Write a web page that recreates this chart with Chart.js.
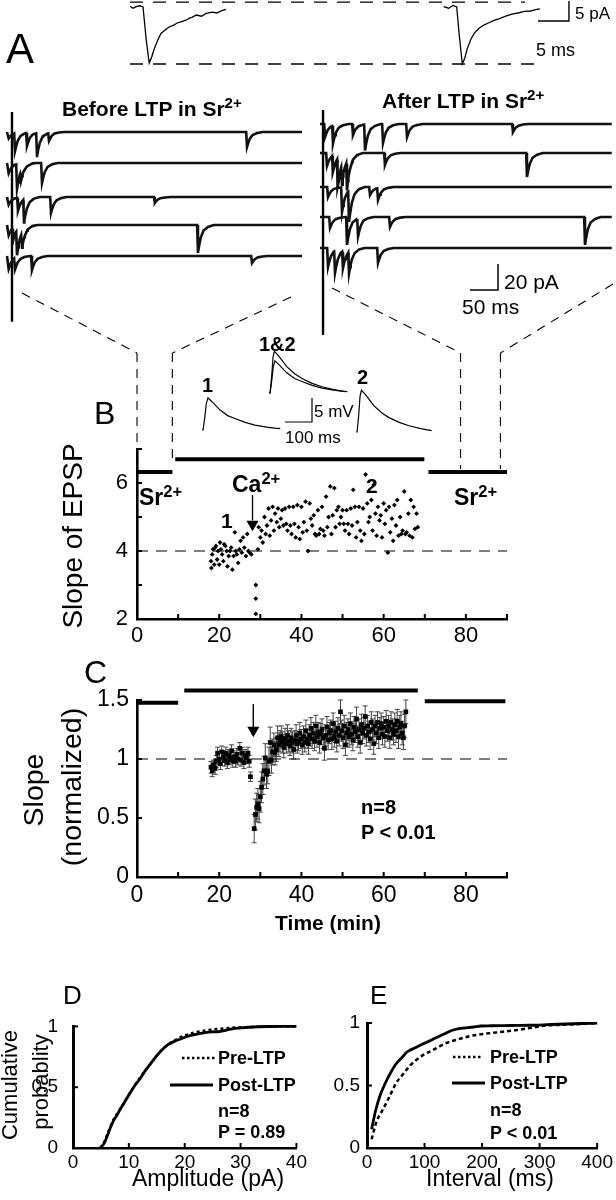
<!DOCTYPE html>
<html><head><meta charset="utf-8">
<script src="https://cdn.jsdelivr.net/npm/chart.js@4.4.1/dist/chart.umd.min.js"></script>
<style>
html,body{margin:0;padding:0;background:#fff;}
#fig{position:relative;width:616px;height:1200px;overflow:hidden;background:#fff;}
#fig canvas{position:absolute;}
.t{position:absolute;white-space:nowrap;line-height:1;color:#000;font-family:'Liberation Sans',Arial,sans-serif;}
.n{font-family:'Liberation Sans Narrow','Arial Narrow','Liberation Sans',sans-serif;}
.b{font-weight:bold;}
.s{font-size:0.72em;position:relative;top:-0.5em;}
</style></head><body><div id="fig"></div>
<script>
// ---------------- DATA ----------------
// Panel A (top): averaged mEPSCs, time (ms) / current (pA)
const avgPreT  = [0,0.5,1.0,1.6,2.1,2.6,3.1,3.5,3.9,4.5,5.0,5.6,6.3,7.0,7.6,8.2,9.0,9.6,10.0,10.7,11.5,12.3,13.3,14.0,14.8,15.5];
const avgPreI  = [0.2,-0.3,0.1,0.3,0,-8,-14,-12.5,-10.5,-8.2,-6.6,-5.8,-5.0,-4.6,-4.0,-3.7,-3.3,-2.8,-2.6,-2.0,-2.3,-1.6,-1.3,-1.5,-0.9,-0.6];
const avgPostT = [0,0.8,1.5,2.1,2.5,3.0,3.4,3.8,4.4,5.0,5.7,6.4,7.2,8.0,9.0,10.0,11.0,12.0,13.0,14.0,15.0,15.5];
const avgPostI = [0.1,-0.3,0.4,0,-7,-14.2,-12.8,-10.4,-8.0,-6.4,-5.3,-4.6,-4.0,-3.4,-2.9,-2.3,-1.8,-1.5,-1.1,-1.0,-0.6,-0.5];
// Panel A (sweeps): asynchronous events [time ms, peak pA]
const sweepsBefore = [
  [[3,-5],[14.3,-13.8],[35.7,-10],[53.6,-17.7],[75,-6],[428.6,-11.5]],
  [[3,-8],[17.9,-19],[25,-7],[62.5,-15.4]],
  [[3,-6],[19.6,-10],[30.4,-17.7],[78.6,-12.3],[264,-4.6]],
  [[3,-8],[10.7,-10],[17.9,-19],[26.8,-11.5],[341,-21.5]],
  [[3,-10],[14.3,-8.5],[44.6,-10.8],[437.5,-5.4]]
];
const sweepsAfter = [
  [[9,-10],[23.2,-13.8],[58.9,-8.5],[80.4,-20],[112.5,-14.6],[155.4,-10],[344.6,-6.2]],
  [[12.5,-10],[23.2,-13],[32.1,-22.3],[39.3,-15.4],[48.2,-22.3],[116,-9.2],[369.6,-18.5]],
  [[14.3,-7.7],[39.3,-19.2],[51.8,-23.8],[89.3,-6.2],[103.6,-9.2]],
  [[17.9,-8.5],[48.2,-21.5],[67.9,-13.8],[125,-7.7],[473.2,-21.5]],
  [[14.3,-14.6],[26.8,-16.9],[41,-13],[51.8,-16.9],[103.6,-11.5]]
];
const sweepLenBefore = 526.8, sweepLenAfter = 521;
// Panel B insets: EPSPs (ms, mV)
const epsp1T = [0,4,10,16,22,35,66,95,122,160,196,240,270,290];
const epsp1V = [0,0,2.5,5.5,6.7,6.0,4.2,3.0,2.4,1.6,1.0,0.6,0.4,0.3];
const epsp2T = [0,4,10,15,20,35,66,95,122,160,196,240,280];
const epsp2V = [0,0,3.5,7.5,8.7,7.8,5.5,4.0,3.0,2.0,1.3,0.7,0.3];
// Panel B: slope of EPSP vs time (min)
const bTime = [18.0,18.1,18.3,18.5,18.8,19.0,19.2,19.5,19.7,20.0,20.2,20.4,20.7,21.0,21.2,21.5,21.8,22.0,22.3,22.6,22.9,23.2,23.5,23.8,24.0,24.3,24.6,24.9,25.2,25.5,25.8,26.1,26.5,26.8,27.1,27.4,27.8,
 28.9,28.9,28.9,29.4,29.6,30.0,30.3,30.6,31.0,31.3,31.6,32.0,32.3,32.6,33.0,33.3,33.6,34.0,34.3,34.6,35.0,35.3,35.6,36.0,36.3,36.6,37.0,37.3,37.6,38.0,38.3,38.6,39.0,39.3,39.6,40.0,40.3,40.6,41.0,41.3,41.6,42.0,42.3,42.6,43.0,43.3,43.6,44.0,44.3,44.6,45.0,45.3,45.6,46.0,46.3,46.6,47.0,47.3,47.6,48.0,48.3,48.6,49.0,49.3,49.6,50.0,50.3,50.6,51.0,51.3,51.6,52.0,52.3,52.6,53.0,53.3,53.6,54.0,54.3,54.6,55.0,55.3,55.6,56.0,56.3,56.6,57.0,57.3,57.6,58.0,58.3,58.6,59.0,59.3,59.6,60.0,60.3,60.6,61.0,61.3,61.6,62.0,62.3,62.6,63.0,63.3,63.6,64.0,64.3,64.6,65.0,65.3,65.6,66.0,66.3,66.6,67.0,67.3,67.6,68.0,68.3];
const bSlope = [3.7,3.5,3.9,4.05,3.6,4.1,4.15,3.75,4.0,3.6,4.25,4.05,3.9,3.7,4.2,4.15,4.0,3.55,3.85,4.0,4.1,3.45,3.85,4.55,4.0,3.9,3.65,4.05,4.3,3.95,4.4,4.1,3.85,4.5,4.0,3.95,3.9,
 3.0,2.6,2.15,4.05,4.7,4.4,4.6,4.25,5.0,4.5,4.75,5.25,4.45,4.9,5.3,4.6,5.1,4.85,5.25,4.7,4.95,5.2,4.75,5.25,4.8,4.6,5.3,4.75,4.5,5.3,4.8,4.4,5.35,4.7,4.35,5.3,4.55,4.85,5.45,4.6,4.0,5.4,4.95,4.75,5.05,4.5,4.45,5.2,4.5,4.65,5.3,4.6,4.45,5.6,4.7,5.0,5.9,4.5,5.05,5.85,4.7,5.2,5.3,4.8,5.0,5.2,4.8,4.6,5.2,4.8,4.5,5.25,4.75,5.8,5.3,4.4,4.85,5.3,4.6,4.3,5.25,4.5,6.25,5.4,4.85,5.0,5.5,4.6,5.95,5.1,4.45,5.3,4.9,5.05,4.4,5.4,4.8,5.2,3.95,5.3,4.55,4.95,4.3,5.35,4.75,5.5,4.45,5.0,4.5,4.6,5.75,4.5,4.55,5.1,4.45,5.5,4.4,5.3,4.65,5.1,4.7];
const bPeriods = [[0,8.6],[9.3,69.9],[70.9,90]];      // Sr2+, Ca2+, Sr2+ (min)
const srWindows = [[0,8.6],[78.7,88.4]];               // sweeps shown in A
const caSwitchB = 28.1;
// Panel C: normalized slope, mean and SEM
const cTime = [18.0,18.3,18.6,19.0,19.3,19.6,20.0,20.3,20.6,21.0,21.3,21.6,22.0,22.3,22.6,23.0,23.3,23.6,24.0,24.3,24.6,25.0,25.3,25.6,26.0,26.3,26.6,27.0,27.3,27.6,
 28.5,28.8,29.1,29.4,29.7,30.0,30.3,30.6,30.9,31.2,31.5,31.8,32.1,32.4,32.7,33.0,33.3,33.6,33.9,34.2,34.5,34.8,35.1,35.4,35.7,36.0,36.3,36.6,36.9,37.2,37.5,37.8,38.1,38.4,38.7,39.0,39.3,39.6,39.9,40.2,40.5,40.8,41.1,41.4,41.7,42.0,42.3,42.6,42.9,43.2,43.5,43.8,44.1,44.4,44.7,45.0,45.3,45.6,45.9,46.2,46.5,46.8,47.1,47.4,47.7,48.0,48.3,48.6,48.9,49.2,49.5,49.8,50.1,50.4,50.7,51.0,51.3,51.6,51.9,52.2,52.5,52.8,53.1,53.4,53.7,54.0,54.3,54.6,54.9,55.2,55.5,55.8,56.1,56.4,56.7,57.0,57.3,57.6,57.9,58.2,58.5,58.8,59.1,59.4,59.7,60.0,60.3,60.6,60.9,61.2,61.5,61.8,62.1,62.4,62.7,63.0,63.3,63.6,63.9,64.2,64.5,64.8,65.1,65.4];
const cMean = [0.93,0.90,0.95,0.92,0.98,1.05,1.00,0.96,1.06,1.02,0.99,1.05,0.97,1.03,1.00,1.07,0.98,1.02,0.98,1.04,1.00,1.09,0.99,1.05,0.97,1.03,1.01,1.05,0.98,0.85,
 0.41,0.53,0.59,0.62,0.58,0.68,0.76,0.83,0.90,1.01,0.87,0.90,0.98,1.14,0.99,1.06,1.12,1.05,1.08,1.18,1.12,1.15,1.19,1.14,1.10,1.17,1.13,1.20,1.15,1.11,1.18,1.14,1.08,1.16,1.20,1.13,1.15,1.22,1.17,1.12,1.19,1.14,1.24,1.17,1.13,1.20,1.26,1.17,1.22,1.15,1.28,1.19,1.23,1.14,1.21,1.25,1.18,1.09,1.20,1.27,1.16,1.22,1.24,1.17,1.30,1.19,1.23,1.15,1.26,1.20,1.40,1.24,1.18,1.28,1.12,1.22,1.25,1.19,1.30,1.21,1.16,1.27,1.23,1.34,1.19,1.25,1.14,1.29,1.22,1.26,1.36,1.20,1.28,1.23,1.17,1.31,1.25,1.13,1.28,1.22,1.31,1.18,1.26,1.30,1.21,1.27,1.19,1.32,1.24,1.28,1.18,1.31,1.25,1.21,1.29,1.24,1.32,1.19,1.27,1.30,1.22,1.18,1.28,1.40];
const cErr = [0.05,0.05,0.04,0.05,0.05,0.05,0.05,0.05,0.05,0.05,0.05,0.05,0.05,0.05,0.05,0.05,0.05,0.05,0.05,0.05,0.05,0.05,0.05,0.05,0.05,0.05,0.05,0.05,0.05,0.04,
 0.12,0.13,0.12,0.13,0.12,0.13,0.13,0.13,0.12,0.12,0.12,0.11,0.12,0.13,0.11,0.11,0.10,0.10,0.10,0.10,0.10,0.09,0.09,0.09,0.09,0.09,0.08,0.09,0.09,0.08,0.08,0.09,0.08,0.08,0.09,0.08,0.08,0.09,0.08,0.08,0.09,0.08,0.09,0.08,0.09,0.09,0.09,0.08,0.09,0.08,0.09,0.09,0.08,0.09,0.09,0.09,0.09,0.10,0.09,0.09,0.08,0.09,0.09,0.09,0.09,0.09,0.09,0.09,0.09,0.09,0.10,0.09,0.09,0.09,0.09,0.09,0.09,0.09,0.09,0.09,0.09,0.09,0.09,0.10,0.09,0.09,0.09,0.09,0.09,0.09,0.09,0.09,0.09,0.09,0.09,0.09,0.09,0.09,0.09,0.09,0.09,0.09,0.09,0.09,0.09,0.09,0.09,0.09,0.09,0.09,0.09,0.09,0.09,0.09,0.10,0.10,0.10,0.10,0.10,0.10,0.10,0.10,0.10,0.10];
const cPeriods = [[0,10],[11.5,68.3],[70,89.6]];
const caSwitchC = 28.3;
// Panel D: cumulative amplitude
const dPreX  = [4.9,5.6,6.3,7.2,8.0,9.0,10.0,11.0,12.0,13.0,14.0,15.0,16.0,17.0,18.0,19.0,20.0,21.0,22.0,23.5,25.0,27.0,29.0,31.0,34.0,37.0,40.0];
const dPreY  = [0,0.05,0.13,0.23,0.29,0.36,0.44,0.51,0.58,0.64,0.70,0.76,0.81,0.85,0.88,0.905,0.925,0.94,0.953,0.965,0.975,0.983,0.99,0.994,0.998,1.0,1.0];
const dPostX = [4.9,5.6,6.3,7.2,8.0,8.6,9.4,10.2,11.0,12.0,13.0,14.0,15.0,16.0,17.0,18.3,19.5,20.6,22.0,23.2,24.8,26.3,27.5,28.6,30.0,31.5,33.2,35.0,37.5,40.0];
const dPostY = [0,0.04,0.12,0.22,0.28,0.33,0.39,0.45,0.51,0.57,0.64,0.70,0.76,0.81,0.85,0.88,0.90,0.92,0.935,0.945,0.955,0.958,0.97,0.98,0.987,0.993,0.997,0.999,1.0,1.0];
// Panel E: cumulative interval
const ePreX  = [8,16.5,27.8,39,50.6,60,67.6,76,84.6,98,113,127,141,155,170,184,198,226,255,283,312,340,370,400];
const ePreY  = [0.07,0.21,0.31,0.41,0.52,0.575,0.62,0.665,0.70,0.745,0.78,0.815,0.845,0.865,0.885,0.90,0.91,0.925,0.94,0.96,0.98,0.985,0.992,1.0];
const ePostX = [8,15,22,28,34,42,50,60,70,83,96,108,119,133,147,160,170,185,198,215,250,283,320,360,400];
const ePostY = [0.15,0.30,0.41,0.48,0.54,0.61,0.67,0.72,0.77,0.80,0.83,0.855,0.88,0.91,0.94,0.955,0.96,0.968,0.976,0.978,0.98,0.982,0.988,0.994,1.0];
// Tick values / labels
const timeTicks = [0,10,20,30,40,50,60,70,80,90];
const timeLabels = [0,20,40,60,80];
const bYTicks = [2,3,4,5,6,7];
const bYLabels = [2,4,6];
const cYTicks = [0,0.5,1,1.5];
const cumYTicks = [0,0.5,1];
const dXTicks = [0,10,20,30,40];
const eXTicks = [0,100,200,300,400];

// ---------------- HELPERS ----------------
const FONT = "'Liberation Sans', Arial, sans-serif";
const fig = document.getElementById('fig');
function canvasAt(x,y,w,h){const c=document.createElement('canvas');c.width=w;c.height=h;c.style.left=x+'px';c.style.top=y+'px';c.style.width=w+'px';c.style.height=h+'px';fig.appendChild(c);return c;}
const baseOpts = () => ({responsive:false,animation:false,devicePixelRatio:1,events:[],plugins:{legend:{display:false},tooltip:{enabled:false}}});
const zip = (xs,ys,dx=0,dy=0) => xs.map((x,i)=>({x:x+dx,y:ys[i]+dy}));
function line(points,o={}){return Object.assign({data:points,showLine:true,pointRadius:0,borderColor:'#000',borderWidth:1.2,fill:false,clip:false,tension:0},o);}
function hiddenChart(box,xr,yr,datasets,plugins=[]){
  const c=canvasAt(box.x,box.y,box.w,box.h);
  return new Chart(c,{type:'scatter',data:{datasets},options:Object.assign(baseOpts(),{layout:{padding:0,autoPadding:false},
    scales:{x:{type:'linear',display:false,min:xr[0],max:xr[1]},y:{type:'linear',display:false,min:yr[0],max:yr[1]}}}),plugins});
}
function axis(o){
  return {type:'linear',position:o.pos,min:o.min,max:o.max,
    afterBuildTicks:s=>{s.ticks=o.ticks.map(v=>({value:v}));},
    afterFit:s=>{if(o.pos==='bottom')s.height=o.size;else s.width=o.size;},
    ticks:{autoSkip:false,maxRotation:0,minRotation:0,padding:o.pad,color:'#000',font:{family:FONT,size:o.font},
      callback:v=>o.labels.includes(v)?String(v):''},
    grid:{display:false,drawTicks:false},border:{display:true,color:'#000',width:o.bw||2.6}};
}
const inTicks={id:'inTicks',afterDraw(ch){const ctx=ch.ctx,a=ch.chartArea,xs=ch.scales.x,ys=ch.scales.y;ctx.save();ctx.strokeStyle='#000';ctx.lineWidth=2;
  xs.ticks.forEach(t=>{const p=xs.getPixelForValue(t.value);ctx.beginPath();ctx.moveTo(p,a.bottom);ctx.lineTo(p,a.bottom-5);ctx.stroke();});
  ys.ticks.forEach(t=>{const p=ys.getPixelForValue(t.value);ctx.beginPath();ctx.moveTo(a.left,p);ctx.lineTo(a.left+5,p);ctx.stroke();});ctx.restore();}};
function axisChart(box,area,xo,yo,datasets,plugins=[]){
  const c=canvasAt(box.x,box.y,box.w,box.h);
  xo.pos='bottom';yo.pos='left';yo.size=area.l-box.x;
  const padT=area.t-box.y,padR=box.x+box.w-area.r,padB=box.y+box.h-area.b-xo.size;
  return new Chart(c,{type:'scatter',data:{datasets},options:Object.assign(baseOpts(),{layout:{autoPadding:false,padding:{left:0,top:padT,right:padR,bottom:padB}},
    scales:{x:axis(xo),y:axis(yo)}}),plugins:[inTicks,...plugins]});
}
// event waveform used to draw each asynchronous event (relative to trough)
const evShapeT=[-1.5,0,2,5,10,18,28], evShapeK=[0,1,0.75,0.45,0.2,0.07,0];
function shapeAt(dt){if(dt<=evShapeT[0]||dt>=evShapeT[evShapeT.length-1])return 0;
  for(let i=0;i<evShapeT.length-1;i++){if(dt>=evShapeT[i]&&dt<=evShapeT[i+1]){const f=(dt-evShapeT[i])/(evShapeT[i+1]-evShapeT[i]);return evShapeK[i]+f*(evShapeK[i+1]-evShapeK[i]);}}return 0;}
function sweepPoints(events,tEnd,off){let ts=[0,tEnd];events.forEach(([te])=>evShapeT.forEach(k=>{const t=te+k;if(t>0&&t<tEnd)ts.push(t);}));
  ts=[...new Set(ts)].sort((a,b)=>a-b);return ts.map(t=>({x:t,y:off+events.reduce((s,[te,a])=>s+a*shapeAt(t-te),0)}));}

// ---------------- PANEL A (top averages) ----------------
hiddenChart({x:0,y:0,w:616,h:80},[-20.97,78.39],[-18.25,1.75],[
  line(zip(avgPreT,avgPreI),{borderWidth:1.3}),
  line(zip(avgPostT,avgPostI,50.6),{borderWidth:1.3}),
  line([{x:0,y:1.2},{x:63.7,y:1.2}],{borderDash:[13,10],borderWidth:1.3}),
  line([{x:0,y:-14.25},{x:65.2,y:-14.25}],{borderDash:[13,10],borderWidth:1.3}),
  line([{x:65.8,y:-3.5},{x:70.8,y:-3.5},{x:70.8,y:1.5}],{borderWidth:1.4})
]);
// ---------------- PANEL A (sweeps) ----------------
const offBefore=[0,-23.8,-50,-71.5,-95.4], offAfter=[0,-22.3,-48.5,-71.5,-95.4];
hiddenChart({x:0,y:100,w:310,h:240},[-12.5,541.07],[-160,24.615],[
  ...sweepsBefore.map((ev,i)=>line(sweepPoints(ev,sweepLenBefore,offBefore[i]),{borderWidth:2.6,borderColor:'#111'})),
  line([{x:8.9,y:15.4},{x:8.9,y:-146}],{borderWidth:2.4})
]);
hiddenChart({x:310,y:100,w:306,h:240},[-17.86,528.57],[-166.15,18.46],[
  ...sweepsAfter.map((ev,i)=>line(sweepPoints(ev,sweepLenAfter,offAfter[i]),{borderWidth:2.6,borderColor:'#111'})),
  line([{x:5.4,y:10.8},{x:5.4,y:-162.3}],{borderWidth:2.4}),
  line([{x:267.9,y:-127.7},{x:317.9,y:-127.7},{x:317.9,y:-107.7}],{borderWidth:1.5})
]);
// ---------------- PANEL B insets ----------------
hiddenChart({x:180,y:335,w:270,h:110},[-81.48,918.52],[-3.125,19.79],[
  line(zip(epsp1T,epsp1V)),
  line(zip(epsp1T,epsp1V,248.1,7.71)),
  line(zip(epsp2T,epsp2V,248.1,7.71)),
  line(zip(epsp2T,epsp2V,570.4,-0.42)),
  line([{x:307.4,y:1.67},{x:407.4,y:1.67},{x:407.4,y:6.67}],{borderWidth:1.2})
]);
// ---------------- PANEL B ----------------
const bLevels=[6.32,6.7,6.32];
const connectors={id:'conn',afterDraw(ch){const ctx=ch.ctx,xs=ch.scales.x,ys=ch.scales.y,oy=280;ctx.save();ctx.strokeStyle='#000';ctx.lineWidth=1.1;ctx.setLineDash([9,7]);
  const seg=(x1,y1,x2,y2)=>{ctx.beginPath();ctx.moveTo(x1,y1);ctx.lineTo(x2,y2);ctx.stroke();};
  const top=353-oy;
  const xa=xs.getPixelForValue(srWindows[0][0]),xb=xs.getPixelForValue(srWindows[0][1]),xc=xs.getPixelForValue(srWindows[1][0]),xd=xs.getPixelForValue(srWindows[1][1]);
  seg(xa,top,xa,ch.chartArea.top);seg(xb,top,xb,ys.getPixelForValue(bLevels[1])+4);
  seg(xc,top,xc,ys.getPixelForValue(bLevels[2])-3);seg(xd,top,xd,ys.getPixelForValue(bLevels[2])-3);
  seg(22,293-oy,xa,top);seg(291,297-oy,xb,top);seg(332,288-oy,xc,top);seg(613,284-oy,xd,top);
  ctx.restore();}};
axisChart({x:0,y:280,w:616,h:380},{l:137,t:449,r:507,b:619},
  {min:0,max:90,ticks:timeTicks,labels:timeLabels,size:30,pad:4,font:22},
  {min:2,max:7,ticks:bYTicks,labels:bYLabels,pad:9,font:22},[
  {data:zip(bTime,bSlope),pointStyle:'rectRot',pointRadius:2.4,backgroundColor:'#000',borderWidth:0,clip:false},
  line([{x:caSwitchB,y:5.65},{x:caSwitchB,y:4.9}],{borderWidth:1.3}),
  {data:[{x:caSwitchB,y:4.79}],pointStyle:'triangle',rotation:180,pointRadius:7,backgroundColor:'#000',borderWidth:0,clip:false},
  ...bPeriods.map((p,i)=>line([{x:p[0],y:bLevels[i]},{x:p[1],y:bLevels[i]}],{borderWidth:4,borderCapStyle:'butt'})),
  line([{x:0,y:4},{x:90,y:4}],{borderDash:[11,8],borderWidth:1.1})
],[connectors]);
// ---------------- PANEL C ----------------
const cLevels=[1.477,1.58,1.49];
const errBars={id:'errBars',beforeDatasetsDraw(ch){const ctx=ch.ctx,xs=ch.scales.x,ys=ch.scales.y;ctx.save();ctx.strokeStyle='#444';ctx.lineWidth=1;
  cTime.forEach((t,i)=>{const x=xs.getPixelForValue(t),y1=ys.getPixelForValue(cMean[i]-cErr[i]),y2=ys.getPixelForValue(cMean[i]+cErr[i]);
    ctx.beginPath();ctx.moveTo(x,y1);ctx.lineTo(x,y2);ctx.moveTo(x-2.5,y1);ctx.lineTo(x+2.5,y1);ctx.moveTo(x-2.5,y2);ctx.lineTo(x+2.5,y2);ctx.stroke();});ctx.restore();}};
axisChart({x:0,y:660,w:616,h:280},{l:137,t:700,r:507,b:877},
  {min:0,max:90,ticks:timeTicks,labels:timeLabels,size:40,pad:5,font:23},
  {min:0,max:1.5,ticks:cYTicks,labels:cYTicks,pad:8,font:23},[
  {data:zip(cTime,cMean),pointStyle:'rect',pointRadius:3.3,backgroundColor:'#000',borderWidth:0,clip:false},
  line([{x:caSwitchC,y:1.464},{x:caSwitchC,y:1.27}],{borderWidth:1}),
  {data:[{x:caSwitchC,y:1.243}],pointStyle:'triangle',rotation:180,pointRadius:7,backgroundColor:'#000',borderWidth:0,clip:false},
  ...cPeriods.map((p,i)=>line([{x:p[0],y:cLevels[i]},{x:p[1],y:cLevels[i]}],{borderWidth:4,borderCapStyle:'butt'})),
  line([{x:0,y:1},{x:90,y:1}],{borderDash:[11,8],borderWidth:1.1})
],[errBars]);
// ---------------- PANELS D & E ----------------
function legendSamples(dot,sol){return {id:'leg',afterDraw(ch){const ctx=ch.ctx;ctx.save();ctx.strokeStyle='#000';
  ctx.lineWidth=2.5;ctx.setLineDash([2.5,2.5]);ctx.beginPath();ctx.moveTo(dot[0],dot[2]);ctx.lineTo(dot[1],dot[2]);ctx.stroke();
  ctx.setLineDash([]);ctx.lineWidth=2.8;ctx.beginPath();ctx.moveTo(sol[0],sol[2]);ctx.lineTo(sol[1],sol[2]);ctx.stroke();ctx.restore();}};}
axisChart({x:0,y:1000,w:310,h:200},{l:73,t:1023,r:307,b:1148},
  {min:0,max:40,ticks:dXTicks,labels:dXTicks,size:30,pad:3,font:19},
  {min:0,max:1,ticks:cumYTicks,labels:cumYTicks,pad:15,font:19,bw:3},[
  line(zip(dPreX,dPreY),{borderDash:[3,3],borderWidth:2.5,cubicInterpolationMode:'monotone'}),
  line(zip(dPostX,dPostY),{borderWidth:2.8,cubicInterpolationMode:'monotone'})
],[legendSamples([182,215,58],[170,213,85])]);
axisChart({x:310,y:1000,w:306,h:200},{l:367,t:1023,r:602,b:1148},
  {min:0,max:400,ticks:eXTicks,labels:eXTicks,size:30,pad:3,font:19},
  {min:0,max:1,ticks:cumYTicks,labels:cumYTicks,pad:7,font:19,bw:3},[
  line(zip(ePreX,ePreY),{borderDash:[4,3],borderWidth:2.5,cubicInterpolationMode:'monotone'}),
  line(zip(ePostX,ePostY),{borderWidth:2.8,cubicInterpolationMode:'monotone'})
],[legendSamples([143,172,57],[142,175,83])]);

// ---------------- TEXT ----------------
function T(html,x,y,o={}){const d=document.createElement('div');d.className='t'+(o.b?' b':'')+(o.n?' n':'');d.innerHTML=html;
  d.style.fontSize=(o.size||20)+'px';d.style.left=x+'px';d.style.top=y+'px';
  d.style.transform=o.rot?'translate(-50%,-50%) rotate(-90deg)':(o.c?'translate(-50%,-50%)':'translateY(-50%)');fig.appendChild(d);}
const SUP='<span class="s">2+</span>';
T('A',6,49,{size:42});
T('5 pA',575,13,{size:17,n:1});
T('5 ms',536,50,{size:18,n:1});
T('Before LTP in Sr'+SUP,62,108,{size:21,b:1});
T('After LTP in Sr'+SUP,382,100,{size:21,b:1});
T('20 pA',504,281,{size:21,n:1});
T('50 ms',462,306,{size:21,n:1});
T('1&amp;2',259,344,{size:20,b:1});
T('1',202,385,{size:20,b:1});
T('2',357,377,{size:20,b:1});
T('5 mV',314,411,{size:17,n:1});
T('100 ms',285,437,{size:17,n:1});
T('B',94,413,{size:32});
T('Slope of EPSP',73,536,{size:28,rot:1});
T('Sr'+SUP,139,497,{size:23,b:1});
T('Sr'+SUP,454,497,{size:23,b:1});
T('Ca'+SUP,232,484,{size:23,b:1});
T('1',221,520,{size:21,b:1});
T('2',366,485,{size:21,b:1});
T('C',84,672,{size:32});
T('Slope',33,790,{size:28.5,rot:1});
T('(normalized)',71,787,{size:28.5,rot:1});
T('n=8',361,807,{size:20,b:1});
T('P &lt; 0.01',361,832,{size:20,b:1});
T('Time (min)',328,922,{size:21,b:1,c:1});
T('D',63,995,{size:26});
T('E',370,995,{size:26});
T('Cumulative',10,1085,{size:22,rot:1});
T('probablity',41,1082,{size:22,rot:1});
T('Pre-LTP',218,1058,{size:18,b:1});
T('Post-LTP',218,1085,{size:18,b:1});
T('n=8',218,1111,{size:18,b:1});
T('P = 0.89',218,1132,{size:18,b:1});
T('Pre-LTP',490,1057,{size:18,b:1});
T('Post-LTP',490,1083,{size:18,b:1});
T('n=8',490,1110,{size:18,b:1});
T('P &lt; 0.01',490,1133,{size:18,b:1});
T('Amplitude (pA)',208,1178,{size:23,c:1});
T('Interval (ms)',490,1178,{size:23,c:1});
</script></body></html>
